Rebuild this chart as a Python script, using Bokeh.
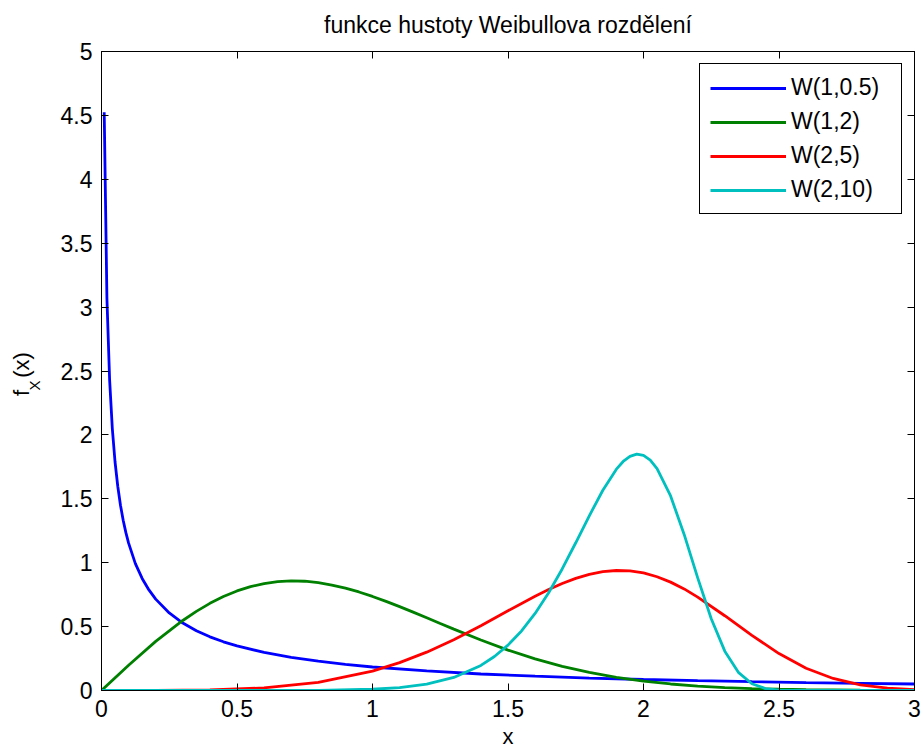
from bokeh.plotting import figure
from bokeh.models import Range1d, LinearAxis, FixedTicker, CustomLabelingPolicy
from bokeh.embed import file_html
from bokeh.resources import INLINE

# ---- data ----
title_text = "funkce hustoty Weibullova rozdělení"
x_label = "x"
y_label_main = "f\u00a0\u00a0(x)\u00a0"
y_label_sub = "X" + "\u00a0" * 7
series_names = ["W(1,0.5)", "W(1,2)", "W(2,5)", "W(2,10)"]
series_colors = ["#0000ff", "#008000", "#ff0000", "#00bfbf"]

x_ticks = [0, 0.5, 1, 1.5, 2, 2.5, 3]
x_tick_labels = ["0", "0.5", "1", "1.5", "2", "2.5", "3"]
y_ticks = [0, 0.5, 1, 1.5, 2, 2.5, 3, 3.5, 4, 4.5, 5]
y_tick_labels = ["0", "0.5", "1", "1.5", "2", "2.5", "3", "3.5", "4", "4.5", "5"]

x_w1_05 = [0.01, 0.02, 0.03, 0.04, 0.05, 0.06, 0.07, 0.08, 0.09, 0.1, 0.125, 0.15,
           0.175, 0.2, 0.25, 0.3, 0.35, 0.4, 0.45, 0.5, 0.6, 0.7, 0.8, 0.9, 1.0,
           1.2, 1.4, 1.6, 1.8, 2.0, 2.2, 2.4, 2.6, 2.8, 3.0]
y_w1_05 = [4.524, 3.069, 2.428, 2.047, 1.788, 1.598, 1.450, 1.332, 1.235, 1.153, 0.993, 0.877,
           0.787, 0.715, 0.607, 0.528, 0.468, 0.420, 0.381, 0.349, 0.298, 0.259, 0.229, 0.204, 0.184,
           0.153, 0.129, 0.112, 0.097, 0.086, 0.077, 0.069, 0.062, 0.056, 0.051]

x_w1_2 = [0.0, 0.1, 0.2, 0.3, 0.35, 0.4, 0.45, 0.5, 0.55, 0.6, 0.65, 0.7, 0.75, 0.8, 0.85,
          0.9, 0.95, 1.0, 1.05, 1.1, 1.15, 1.2, 1.25, 1.3, 1.4, 1.5,
          1.6, 1.7, 1.8, 1.9, 2.0, 2.1, 2.2, 2.3, 2.4, 2.5, 2.6, 2.7, 2.8, 2.9, 3.0]
y_w1_2 = [0.0, 0.198, 0.384, 0.548, 0.619, 0.682, 0.735, 0.779, 0.813, 0.837, 0.852, 0.858,
          0.855, 0.844, 0.825, 0.801, 0.771, 0.736, 0.697, 0.656, 0.613,
          0.569, 0.524, 0.480, 0.395, 0.316, 0.247, 0.189, 0.141, 0.103, 0.073, 0.051, 0.035, 0.023,
          0.015, 0.010, 0.006, 0.004, 0.002, 0.001, 0.001]

x_w2_5 = [0.0, 0.2, 0.4, 0.6, 0.8, 1.0, 1.1, 1.2, 1.3, 1.4, 1.5, 1.6, 1.65, 1.7, 1.75, 1.8,
          1.85, 1.9, 1.95, 2.0, 2.05, 2.1, 2.15, 2.2, 2.3, 2.4, 2.5, 2.6, 2.7, 2.8, 2.9, 3.0]
y_w2_5 = [0.0, 0.0003, 0.004, 0.020, 0.063, 0.151, 0.218, 0.300, 0.397, 0.507, 0.624, 0.738,
          0.790, 0.837, 0.877, 0.909, 0.930, 0.939, 0.936, 0.920, 0.890, 0.848, 0.795, 0.731,
          0.585, 0.431, 0.289, 0.174, 0.094, 0.044, 0.018, 0.006]

x_w2_10 = [0.0, 0.2, 0.4, 0.6, 0.8, 1.0, 1.1, 1.2, 1.3, 1.4, 1.45, 1.5, 1.55, 1.6, 1.65, 1.7,
           1.75, 1.8, 1.85, 1.9, 1.925, 1.95, 1.975, 2.0, 2.025, 2.05, 2.1, 2.15, 2.2, 2.25,
           2.3, 2.35, 2.4, 2.45, 2.5, 2.6, 2.8, 3.0]
y_w2_10 = [0.0, 0.0, 0.0, 0.0001, 0.0013, 0.0098, 0.023, 0.050, 0.102, 0.196, 0.266, 0.355,
           0.466, 0.603, 0.765, 0.951, 1.156, 1.367, 1.567, 1.732, 1.792, 1.832, 1.849, 1.839,
           1.802, 1.736, 1.522, 1.221, 0.881, 0.561, 0.308, 0.142, 0.053, 0.015, 0.003, 0.0001,
           0.0, 0.0]

xs = [x_w1_05, x_w1_2, x_w2_5, x_w2_10]
ys = [y_w1_05, y_w1_2, y_w2_5, y_w2_10]

FONT = "Liberation Sans"
FS = "23px"

p = figure(width=923, height=751, x_range=Range1d(0, 3), y_range=Range1d(0, 5),
           output_backend="svg", toolbar_location=None,
           min_border_left=101, min_border_right=9, min_border_top=51, min_border_bottom=61)

p.background_fill_color = "white"
p.border_fill_color = "white"
p.outline_line_color = "black"
p.outline_line_width = 1
p.xgrid.visible = False
p.ygrid.visible = False

p.title.text = title_text
p.title.align = "center"
p.title.text_font = FONT
p.title.text_font_size = "23px"
p.title.text_font_style = "normal"
p.title.text_color = "black"
p.title.standoff = 19

no_labels = CustomLabelingPolicy(code="return new Set()")


def style_axis(ax, ticks, labels, show_labels=True):
    ax.ticker = FixedTicker(ticks=ticks)
    ax.major_label_overrides = {t: l for t, l in zip(ticks, labels)}
    ax.major_tick_in = 7
    ax.major_tick_out = 0
    ax.minor_tick_in = 0
    ax.minor_tick_out = 0
    ax.axis_line_color = "black"
    ax.major_tick_line_color = "black"
    ax.major_label_text_font = FONT
    ax.major_label_text_color = "black"
    if show_labels:
        ax.major_label_text_font_size = FS
    else:
        ax.major_label_text_font_size = "1px"
        ax.major_label_standoff = 0
        ax.major_label_policy = no_labels


style_axis(p.xaxis[0], x_ticks, x_tick_labels)
p.xaxis[0].major_label_standoff = 9
p.xaxis[0].major_label_text_line_height = 1.0
p.xaxis[0].axis_label = x_label
p.xaxis[0].axis_label_text_font = FONT
p.xaxis[0].axis_label_text_font_size = "22px"
p.xaxis[0].axis_label_text_font_style = "normal"
p.xaxis[0].axis_label_text_color = "black"
p.xaxis[0].axis_label_text_line_height = 1.0
p.xaxis[0].axis_label_standoff = 4

style_axis(p.yaxis[0], y_ticks, y_tick_labels)
p.yaxis[0].major_label_standoff = 9

top_ax = LinearAxis()
style_axis(top_ax, x_ticks, x_tick_labels, show_labels=False)
p.add_layout(top_ax, "above")
right_ax = LinearAxis()
style_axis(right_ax, y_ticks, y_tick_labels, show_labels=False)
p.add_layout(right_ax, "right")


def label_axis(text, size, standoff):
    ax = LinearAxis(axis_label=text)
    ax.ticker = FixedTicker(ticks=[])
    ax.axis_line_color = None
    ax.major_tick_in = 0
    ax.major_tick_out = 0
    ax.minor_tick_in = 0
    ax.minor_tick_out = 0
    ax.major_label_text_font_size = "1px"
    ax.major_label_standoff = 0
    ax.major_label_policy = no_labels
    ax.axis_label_text_font = FONT
    ax.axis_label_text_font_size = size
    ax.axis_label_text_font_style = "normal"
    ax.axis_label_text_color = "black"
    ax.axis_label_standoff = standoff
    return ax


# y axis label f_X(x): subscript X next to the tick labels, then "f  (x)"
p.add_layout(label_axis(y_label_sub, "15px", 15), "left")
p.add_layout(label_axis(y_label_main, "22px", -11), "left")

for x, y, name, c in zip(xs, ys, series_names, series_colors):
    p.line(x, y, line_color=c, line_width=2.8, legend_label=name)

lg = p.legend[0]
lg.location = "top_right"
lg.margin = 12
lg.padding = 10
lg.spacing = 7
lg.glyph_width = 76
lg.glyph_height = 24
lg.label_standoff = 5
lg.label_width = 100
lg.label_text_font = FONT
lg.label_text_font_size = FS
lg.label_text_color = "black"
lg.border_line_color = "black"
lg.border_line_width = 1
lg.border_line_alpha = 1
lg.background_fill_color = "white"
lg.background_fill_alpha = 1

open("out.html", "w").write(file_html(p, INLINE))
